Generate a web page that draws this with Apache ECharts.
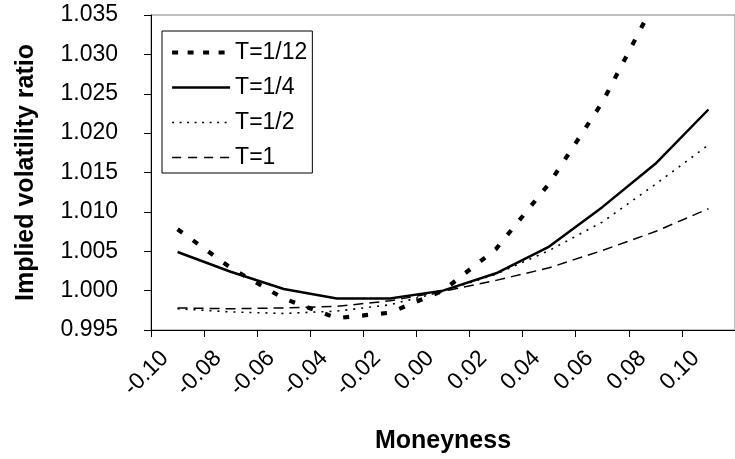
<!DOCTYPE html>
<html>
<head>
<meta charset="utf-8">
<script src="https://cdn.jsdelivr.net/npm/echarts@6/dist/echarts.min.js"></script>
<style>
html,body{margin:0;padding:0;background:#fff;}
#chart{width:735px;height:459px;}
</style>
</head>
<body>
<div id="chart"></div>
<script>
const categories = ['-0.10','-0.08','-0.06','-0.04','-0.02','0.00','0.02','0.04','0.06','0.08','0.10'];
const yTicks = [0.995, 1.035, 0.005];
const t12 = [1.0078, 1.0029, 0.9990, 0.9965, 0.9972, 1.0000, 1.0053, 1.0136, 1.0239, 1.0368, 1.0515];
const t4  = [1.0049, 1.0024, 1.0002, 0.9990, 0.9990, 1.0000, 1.0022, 1.0056, 1.0106, 1.0161, 1.0230];
const t2  = [0.9977, 0.9973, 0.9971, 0.9974, 0.9982, 0.9999, 1.0021, 1.0051, 1.0087, 1.0135, 1.0185];
const t1  = [0.9978, 0.9977, 0.9978, 0.9980, 0.9987, 0.9999, 1.0013, 1.0029, 1.0051, 1.0075, 1.0104];
const seriesNames = ['T=1/12','T=1/4','T=1/2','T=1'];

const FONT = '"Liberation Sans", Arial, sans-serif';
const styles = [
  {color: '#000', width: 4.2, type: [6, 13], cap: 'butt'},
  {color: '#000', width: 2.5, type: 'solid'},
  {color: '#000', width: 1.6, type: [2, 6], cap: 'butt'},
  {color: '#000', width: 1.5, type: [10, 6], cap: 'butt'}
];
const legendStyles = [
  {color: '#000', width: 4.2, type: [6, 9.5], cap: 'butt'},
  {color: '#000', width: 2.5, type: 'solid'},
  {color: '#000', width: 1.6, type: [2, 5.5], cap: 'butt'},
  {color: '#000', width: 1.5, type: [9, 7], cap: 'butt'}
];
const series = [t12, t4, t2, t1].map((d, i) => ({
  name: seriesNames[i], type: 'line', data: d, symbol: 'none', clip: true,
  lineStyle: styles[i], itemStyle: {color: '#000'}
}));

const chart = echarts.init(document.getElementById('chart'), null, {renderer: 'canvas'});
chart.setOption({
  animation: false,
  backgroundColor: '#fff',
  grid: {left: 151, top: 15, right: -9, bottom: 126, show: true, borderColor: '#808080', borderWidth: 1, backgroundColor: 'transparent'},
  legend: {
    show: true,
    orient: 'vertical',
    left: 162, top: 31,
    padding: [10, 5, 4, 8],
    itemGap: 12,
    itemWidth: 58,
    itemHeight: 14,
    borderColor: '#000',
    borderWidth: 1,
    backgroundColor: '#fff',
    itemStyle: {opacity: 0},
    textStyle: {fontFamily: FONT, fontSize: 23, color: '#000'},
    data: seriesNames.map((n, i) => ({name: n, lineStyle: legendStyles[i], itemStyle: {opacity: 0}}))
  },
  xAxis: {
    type: 'category',
    data: categories,
    boundaryGap: true,
    name: 'Moneyness',
    nameLocation: 'middle',
    nameGap: 99,
    nameTextStyle: {fontFamily: FONT, fontSize: 25, fontWeight: 'bold', color: '#000'},
    axisLine: {lineStyle: {color: '#000', width: 1}},
    axisTick: {show: true, length: 7, alignWithLabel: false, lineStyle: {color: '#000'}},
    axisLabel: {rotate: 45, margin: 12, padding: [0, 18, 0, 0], fontFamily: FONT, fontSize: 23, color: '#000', interval: 0},
    splitLine: {show: false}
  },
  yAxis: {
    type: 'value',
    min: yTicks[0], max: yTicks[1], interval: yTicks[2],
    name: 'Implied volatility ratio',
    nameLocation: 'middle',
    nameGap: 112,
    nameRotate: 90,
    nameTextStyle: {fontFamily: FONT, fontSize: 25, fontWeight: 'bold', color: '#000'},
    axisLine: {show: true, lineStyle: {color: '#000', width: 1}},
    axisTick: {show: true, length: 7, lineStyle: {color: '#000'}},
    axisLabel: {margin: 33, fontFamily: FONT, fontSize: 23, color: '#000', formatter: v => v.toFixed(3)},
    splitLine: {show: false}
  },
  series: series
});
</script>
</body>
</html>
